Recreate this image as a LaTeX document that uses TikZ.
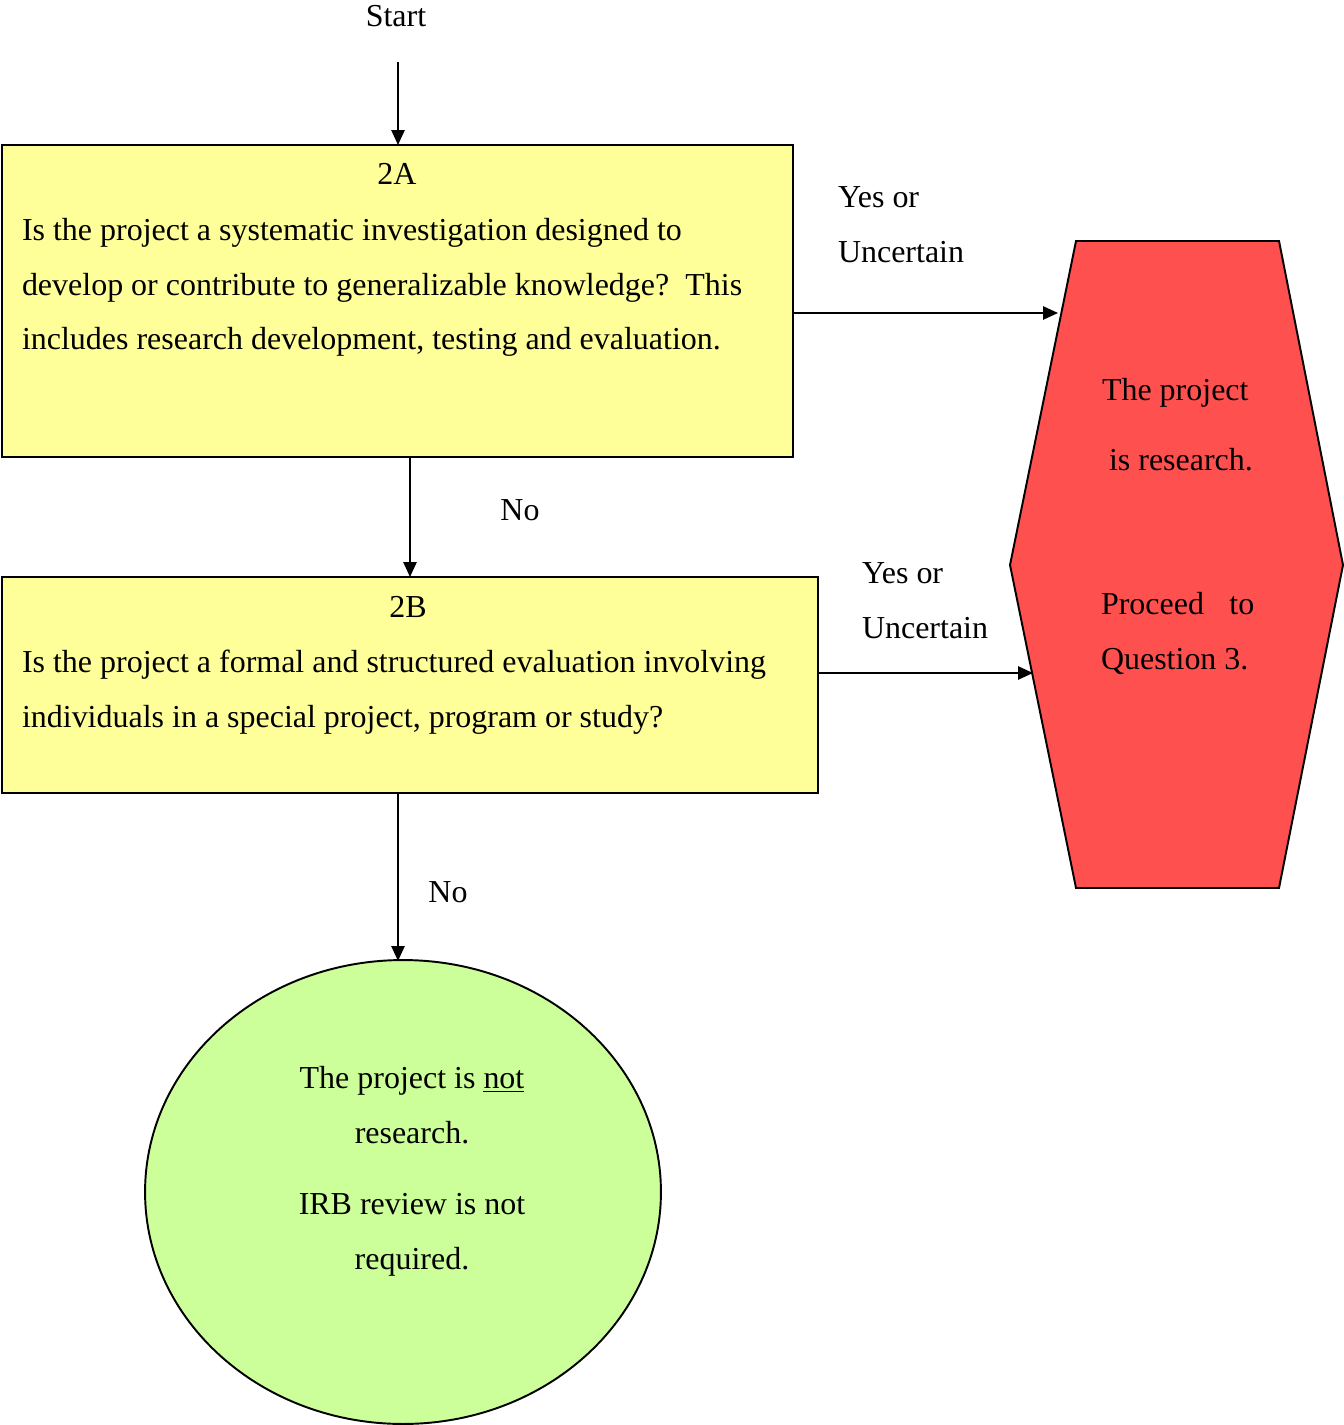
\documentclass[tikz,border=0pt]{standalone}
\usepackage{fontspec}
\setmainfont{Liberation Serif}
\usepackage{tikz}
\usetikzlibrary{arrows.meta,positioning,shapes.geometric}
\definecolor{qyellow}{RGB}{255,255,153}
\definecolor{resred}{RGB}{255,80,80}
\definecolor{notgreen}{RGB}{204,255,153}
\tikzset{
  every node/.style={font=\fontsize{18.2}{31.2}\selectfont,inner sep=0pt,outer sep=0pt},
  qbox/.style={draw,line width=1.1pt,fill=qyellow,rectangle},
  arr/.style={-{Triangle[length=8.5pt,width=7.5pt]},line width=1.1pt}
}

\begin{document}
\begin{tikzpicture}[x=0.02cm,y=-0.02cm]
  \useasboundingbox (0,0) rectangle (1343,1425);
  % Question boxes
  \node[qbox,minimum width=15.82cm,minimum height=6.24cm] (q2a) at (397.5,301) {};
  \node[anchor=base] (q2ahead) at (397,185) {2A};
  \node[anchor=north west,align=left] (q2atext) at (22,218) {Is the project a systematic investigation designed to\\develop or contribute to generalizable knowledge?~~This\\includes research development, testing and evaluation.};
  \node[qbox,minimum width=16.32cm,minimum height=4.32cm] (q2b) at (410,685) {};
  \node[anchor=base] (q2bhead) at (408,617) {2B};
  \node[anchor=north west,align=left] (q2btext) at (22,650) {Is the project a formal and structured evaluation involving\\individuals in a special project, program or study?};
  % Outcomes
  \draw[line width=1.1pt,fill=resred] (1076,241) -- (1279,241) -- (1343,565) -- (1279,888) -- (1076,888) -- (1010,565) -- cycle;
  \node[anchor=north west,align=left] (res1) at (1102,378) {The project\\[9pt]\hskip4pt is research.};
  \node[anchor=north west,align=left] (res2) at (1101,592) {Proceed\hspace{14.5pt}to\\Question 3.};
  \node[ellipse,draw,line width=1.1pt,fill=notgreen,minimum width=10.32cm,minimum height=9.28cm] (notres) at (403,1192) {};
  \node[anchor=north,align=center] (notrestext) at (412,1066) {The project is \underline{not}\\research.\\[9.5pt]IRB review is not\\required.};
  \coordinate (hexin1) at (1058,313);
  \coordinate (hexin2) at (1033,673);
  % Arrows and labels
  \node[anchor=base] (start) at (396,27) {Start};
  \coordinate (startarr) at (398,62);
  \draw[arr] (startarr) -- (startarr |- q2a.north);
  \draw[arr] (q2b.north |- q2a.south) -- (q2b.north);
  \node[anchor=base] (no1) at (520,520) {No};
  \coordinate (notin) at (398,961);
  \draw[arr] (notin |- q2b.south) -- (notin);
  \node[anchor=base] (no2) at (448,902) {No};
  \draw[arr] (q2a.east |- hexin1) -- (hexin1);
  \node[anchor=north west,align=left] (yes1) at (838,187) {Yes or\\Uncertain};
  \draw[arr] (q2b.east |- hexin2) -- (hexin2);
  \node[anchor=north west,align=left] (yes2) at (862,563) {Yes or\\Uncertain};
\end{tikzpicture}
\end{document}
